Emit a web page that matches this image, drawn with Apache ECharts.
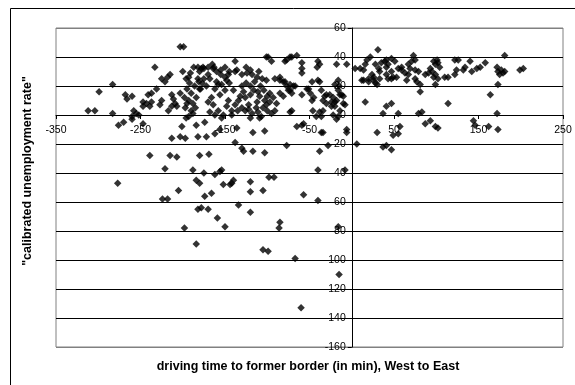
<!DOCTYPE html>
<html>
<head>
<meta charset="utf-8">
<script src="https://cdn.jsdelivr.net/npm/echarts@6/dist/echarts.min.js"></script>
<style>
html, body { margin: 0; padding: 0; background: #fff; }
#chart { width: 575px; height: 385px; }
</style>
</head>
<body>
<div id="chart"></div>
<script>
// axis ranges (minutes / rate)
var xRange = [-350, 250, 100];
var yRange = [-160, 60, 20];

var xTitle = 'driving time to former border (in min), West to East';
var yTitle = '"calibrated unemployment rate"';

// west of the former border, upper band
var westUpper = [
    [-312, 3], [-304, 3], [-299, 16], [-283, 21], [-283, 1], [-276, -7], [-270, -5], [-260, -3],
    [-268, 14], [-266, 11], [-260, 13], [-258, 3], [-255, 1], [-252, 0], [-260, -1], [-247, 9],
    [-243, 8], [-237, 9], [-239, 6], [-247, 6], [-241, 14], [-237, 15], [-233, 33], [-231, 18],
    [-247, -6], [-225, 25], [-221, 23], [-218, 26], [-215, 28], [-225, 10], [-227, 7], [-213, 14],
    [-211, 11], [-217, 3], [-213, 6], [-209, 8], [-207, 6], [-203, 47], [-199, 47], [-201, -8],
    [-193, -1], [-184, -7], [-200, 30], [-196, 25], [-192, 22], [-195, 18], [-190, 15], [-198, 12],
    [-193, 10], [-188, 8], [-185, 5], [-190, 3], [-197, 5], [-203, 15], [-186, 20], [-182, 25],
    [-187, 33], [-182, 33], [-191, 29], [-193, 26], [-184, 12], [-180, 18], [-195, 8], [-188, 1],
    [-175, 32], [-163, 33], [-155, 31], [-174, -5], [-156, -10], [-196, -2], [-176, 33], [-164, 32],
    [-146, 28], [-136, 31], [-124, 29], [-118, 28], [-112, 26], [-106, 25], [-101, 24], [-91, 25],
    [-85, 24], [-79, 23], [-73, 21], [-69, 20], [-181, 23], [-179, 18], [-177, 22], [-138, 37],
    [-101, 40], [-79, 37], [-71, 40], [-168, 25], [-160, 23], [-154, 21], [-162, 18], [-150, 17],
    [-156, 14], [-166, 12], [-170, 9], [-164, 7], [-146, 10], [-148, 6], [-142, 3], [-158, 3],
    [-168, 2], [-162, 0], [-152, 0], [-142, 0], [-138, 7], [-134, 10], [-126, 12], [-120, 14],
    [-116, 17], [-111, 16], [-109, 13], [-112, 9], [-122, 7], [-126, 3], [-118, 1], [-111, 2],
    [-105, 5], [-101, 7], [-97, 9], [-93, 12], [-89, 8], [-85, 15], [-81, 13], [-75, 17],
    [-71, 15], [-95, 1], [-91, 3], [-136, -9], [-117, -12], [-103, -11], [-154, -2], [-120, -2],
    [-109, -2], [-71, 3], [-99, 40], [-95, 37], [-77, 38], [-73, 40], [-65, 41], [-59, 36],
    [-59, 32], [-59, 29], [-40, 37], [-38, 35], [-41, 33], [-18, 35], [-6, 35], [-59, 14],
    [-53, 18], [-49, 15], [-47, 10], [-47, 23], [-40, 24], [-38, 23], [-36, 17], [-30, 14],
    [-26, 14], [-22, 12], [-18, 10], [-16, 17], [-16, 24], [-20, 21], [-14, 14], [-10, 13],
    [-8, 7], [-14, 3], [-20, 6], [-24, 9], [-30, 8], [-34, 3], [-36, -1], [-22, 0],
    [-16, -1], [-18, -3], [-6, -10], [-36, -12], [-65, -8], [-59, -7], [-85, 26], [-81, 23],
    [-77, 20], [-73, 17], [-73, 2], [-46, 3], [-180, 30], [-170, 28], [-130, 20], [-125, 22],
    [-128, 16], [-132, 13], [-120, 20], [-115, 23], [-108, 20], [-104, 17], [-100, 13], [-97, 15],
    [-130, 5], [-135, 3], [-122, 4], [-113, 5], [-107, -1], [-100, 3], [-103, 10], [-140, 17],
    [-145, 22], [-150, 26], [-138, 30], [-130, 28], [-125, 33], [-120, 31], [-110, 30], [-170, 33],
    [-178, 32], [-165, 35], [-160, 30], [-155, 28], [-150, 33], [-145, 30], [-175, 25], [-172, 20],
    [-158, 21], [-148, 24], [-67, 20], [-51, 18], [-45, 12], [-32, 13], [-34, 10], [-24, 6],
    [-10, 8], [-38, 2], [-42, -1], [-57, -6], [-15, 20], [-12, 14], [-20, 9]
];

// west of the former border, lower tail
var westLower = [
    [-138, -19], [-130, -23], [-128, -25], [-117, -25], [-103, -26], [-77, -21], [-38, -25], [-28, -21],
    [-34, -12], [-6, -12], [-154, -38], [-152, -48], [-142, -47], [-140, -45], [-120, -46], [-120, -53],
    [-105, -52], [-98, -43], [-92, -43], [-134, -62], [-120, -67], [-40, -38], [-40, -59], [-57, -55],
    [-8, -38], [-85, -74], [-86, -78], [-150, -77], [-105, -93], [-99, -94], [-67, -99], [-16, -77],
    [-15, -110], [-60, -133], [-239, -28], [-215, -28], [-207, -29], [-221, -37], [-188, -38], [-180, -28],
    [-169, -27], [-175, -40], [-162, -41], [-156, -39], [-277, -47], [-205, -52], [-184, -45], [-180, -47],
    [-144, -48], [-166, -54], [-174, -56], [-224, -58], [-218, -58], [-182, -65], [-178, -64], [-170, -65],
    [-159, -71], [-198, -78], [-184, -89], [-213, -16], [-203, -15], [-197, -16], [-182, -15], [-172, -15],
    [-162, -13]
];

// east of the former border
var east = [
    [31, 45], [22, 40], [18, 38], [16, 35], [10, 32], [4, 32], [14, 31], [12, 24],
    [20, 25], [24, 28], [26, 24], [30, 21], [28, 35], [32, 32], [35, 36], [39, 37],
    [41, 33], [33, 30], [14, 24], [20, 23], [26, 26], [28, 22], [33, 25], [41, 28],
    [47, 25], [53, 26], [16, 9], [41, 6], [37, 1], [47, 8], [30, -12], [49, -14],
    [55, -13], [6, -20], [37, -22], [41, -21], [47, -24], [73, 41], [41, 38], [47, 39],
    [51, 37], [43, 35], [55, 32], [59, 31], [47, 30], [43, 25], [49, 26], [63, 29],
    [67, 28], [65, 24], [59, 33], [67, 35], [71, 37], [75, 38], [69, 32], [75, 31],
    [79, 30], [75, 25], [77, 23], [81, 21], [81, 16], [87, 28], [91, 29], [95, 30],
    [97, 26], [93, 32], [99, 35], [101, 38], [102, 36], [104, 33], [97, 37], [99, 28],
    [99, 21], [102, 25], [110, 26], [114, 26], [122, 28], [124, 31], [122, 38], [126, 38],
    [132, 31], [134, 33], [140, 37], [142, 30], [148, 32], [152, 33], [158, 36], [172, 33],
    [173, 30], [175, 28], [179, 29], [181, 41], [173, 21], [164, 14], [114, 8], [55, 1],
    [79, 1], [83, 2], [87, -6], [93, -4], [99, -8], [102, -9], [144, -4], [146, -7],
    [162, -8], [173, -10], [172, 1], [57, -8], [199, 31], [203, 32], [177, 31], [181, 30]
];

var chart = echarts.init(document.getElementById('chart'));
var font = '"Liberation Sans", Arial, sans-serif';

var gridBox = { left: 56, top: 28, width: 507, height: 319 };

// outer grid lines are part of the plot border, so they are grey
var gridColors = [];
for (var v = yRange[0]; v <= yRange[1]; v += yRange[2]) {
    gridColors.push(v === yRange[0] || v === yRange[1] ? '#808080' : '#000');
}

// shift the axes from the plot edges to the zero crossing
var xAxisShift = -gridBox.height * (0 - yRange[0]) / (yRange[1] - yRange[0]);
var yAxisShift = -gridBox.width * (0 - xRange[0]) / (xRange[1] - xRange[0]);

function pointSeries(data) {
    return {
        type: 'scatter',
        data: data,
        symbol: 'diamond',
        symbolSize: 7.5,
        itemStyle: { color: '#000' },
        silent: true
    };
}

var options = {
    animation: false,
    graphic: [
        {
            type: 'rect',
            shape: { x: 10.5, y: 8.5, width: 700, height: 500 },
            style: { fill: 'none', stroke: '#000', lineWidth: 1 }
        },
        {
            type: 'text',
            x: 308, y: 367,
            style: {
                text: xTitle, font: 'bold 12.5px ' + font, fill: '#000',
                textAlign: 'center', textVerticalAlign: 'middle'
            }
        },
        {
            type: 'text',
            x: 28, y: 171, rotation: Math.PI / 2,
            style: {
                text: yTitle, font: 'bold 12.5px ' + font, fill: '#000',
                textAlign: 'center', textVerticalAlign: 'middle'
            }
        }
    ],
    grid: {
        left: gridBox.left, top: gridBox.top, width: gridBox.width, height: gridBox.height,
        show: true, borderColor: '#808080', borderWidth: 1, backgroundColor: 'transparent'
    },
    xAxis: {
        type: 'value',
        position: 'bottom',
        offset: xAxisShift,
        min: xRange[0], max: xRange[1], interval: xRange[2],
        axisLine: { onZero: false, lineStyle: { color: '#000', width: 1 } },
        axisTick: { show: true, length: 4, lineStyle: { color: '#000' } },
        axisLabel: { color: '#000', fontFamily: font, fontSize: 10.5, margin: 10 },
        splitLine: { show: false }
    },
    yAxis: {
        type: 'value',
        position: 'left',
        offset: yAxisShift,
        min: yRange[0], max: yRange[1], interval: yRange[2],
        axisLine: { onZero: false, lineStyle: { color: '#000', width: 1 } },
        axisTick: { show: true, length: 4, lineStyle: { color: '#000' } },
        axisLabel: { color: '#000', fontFamily: font, fontSize: 10.5, margin: 6 },
        splitLine: { show: true, lineStyle: { color: gridColors, width: 1 } }
    },
    series: [pointSeries(westUpper), pointSeries(westLower), pointSeries(east)]
};
chart.setOption(options);
</script>
</body>
</html>
